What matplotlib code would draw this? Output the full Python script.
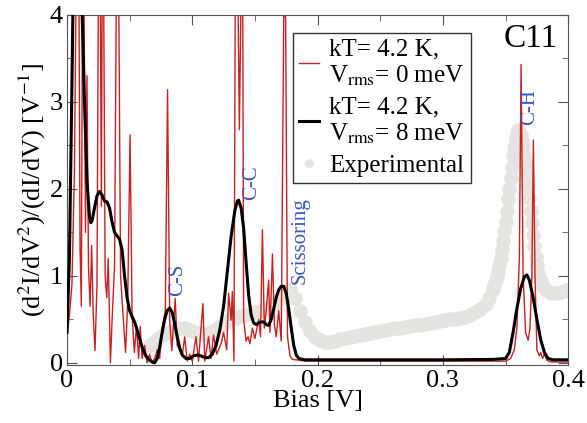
import matplotlib
matplotlib.use('Agg')
import matplotlib.pyplot as plt
from matplotlib.ticker import MultipleLocator, FuncFormatter

plt.rcParams['font.family'] = ['Liberation Serif', 'DejaVu Serif']
plt.rcParams['mathtext.fontset'] = 'stix'

# experimental dI2/dV2 (grey dots)
exp_x = [0.066, 0.070, 0.074, 0.078, 0.082, 0.086, 0.090, 0.094, 0.098, 0.102,
         0.106, 0.110, 0.114, 0.118, 0.122, 0.126, 0.130, 0.134, 0.138, 0.142,
         0.146, 0.150, 0.154, 0.158, 0.162, 0.166, 0.170, 0.174, 0.178, 0.182,
         0.186, 0.190, 0.194, 0.198, 0.202, 0.206, 0.210, 0.214, 0.218, 0.222,
         0.226, 0.230, 0.234, 0.238, 0.242, 0.246, 0.250, 0.254, 0.258, 0.262,
         0.266, 0.270, 0.274, 0.278, 0.282, 0.286, 0.290, 0.294, 0.298, 0.302,
         0.306, 0.310, 0.314, 0.318, 0.322, 0.326, 0.330, 0.334, 0.337,
         0.340, 0.341, 0.342, 0.343, 0.344, 0.345, 0.346, 0.347, 0.348, 0.349,
         0.350, 0.351, 0.352, 0.353, 0.354, 0.355, 0.356, 0.357, 0.358, 0.359,
         0.360, 0.361, 0.362, 0.363, 0.364, 0.365, 0.366, 0.367, 0.368, 0.369,
         0.370, 0.371, 0.372, 0.373, 0.374, 0.375, 0.376, 0.378, 0.380, 0.382,
         0.386, 0.390, 0.394, 0.398]
exp_y = [0.20, 0.25, 0.30, 0.34, 0.36, 0.38, 0.40, 0.40, 0.38, 0.35,
         0.33, 0.33, 0.35, 0.38, 0.42, 0.46, 0.50, 0.52, 0.54, 0.55,
         0.56, 0.58, 0.60, 0.62, 0.65, 0.68, 0.74, 0.82, 0.85, 0.75,
         0.60, 0.47, 0.37, 0.30, 0.26, 0.24, 0.24, 0.25, 0.27, 0.29,
         0.30, 0.31, 0.32, 0.33, 0.34, 0.36, 0.37, 0.38, 0.39, 0.40,
         0.40, 0.41, 0.42, 0.43, 0.44, 0.45, 0.46, 0.47, 0.48, 0.49,
         0.50, 0.50, 0.51, 0.53, 0.55, 0.58, 0.62, 0.68, 0.75,
         0.85, 0.90, 0.95, 1.00, 1.05, 1.12, 1.20, 1.30, 1.40, 1.51,
         1.62, 1.75, 1.88, 2.00, 2.12, 2.25, 2.38, 2.48, 2.58, 2.64,
         2.68, 2.66, 2.62, 2.55, 2.48, 2.38, 2.28, 2.16, 2.03, 1.89,
         1.75, 1.61, 1.47, 1.34, 1.22, 1.12, 1.02, 0.94, 0.88, 0.84,
         0.80, 0.80, 0.82, 0.84]

# theory, Vrms = 0 meV (red)
red_x = [0.000, 0.002, 0.004, 0.006, 0.0075, 0.0095, 0.0105, 0.0115, 0.0125, 0.0135,
         0.0148, 0.0160, 0.0172, 0.0185, 0.0197, 0.0210, 0.0224, 0.0240, 0.0252, 0.0265,
         0.0275, 0.0282, 0.0292, 0.0305, 0.0318, 0.0330, 0.0347, 0.0362, 0.0380, 0.0396,
         0.0412, 0.0428, 0.0450, 0.0468, 0.0485, 0.0504, 0.0520, 0.0538, 0.0555, 0.0572,
         0.0585, 0.0600, 0.0620, 0.0640, 0.0660, 0.0680, 0.0700, 0.0720, 0.0740, 0.0760,
         0.0785, 0.0803, 0.0820, 0.0837, 0.0864, 0.0880, 0.0900, 0.0920, 0.0940, 0.0960,
         0.0980, 0.1000, 0.1030, 0.1050, 0.1085, 0.1100, 0.1130, 0.1150, 0.1170, 0.1195,
         0.1230, 0.1250, 0.1275, 0.1290, 0.1310, 0.1320, 0.1333, 0.1344, 0.1362, 0.1376,
         0.1393, 0.1402, 0.1410, 0.1430, 0.1445, 0.1460, 0.1480, 0.1500, 0.1530, 0.1545,
         0.1560, 0.1575, 0.1590, 0.1610, 0.1620, 0.1640, 0.1655, 0.1670, 0.1690, 0.1710,
         0.1730, 0.1745, 0.1760, 0.1780, 0.1800, 0.1900, 0.3500, 0.3540, 0.3570, 0.3590,
         0.3610, 0.3624, 0.3640, 0.3660, 0.3680, 0.3695, 0.3710, 0.3722, 0.3735, 0.3750,
         0.3770, 0.3780, 0.3795, 0.3810, 0.3830, 0.3860, 0.4000]
red_y = [0.30, 0.55, 0.90, 2.20, 4.60, 4.60, 1.30, 0.65, 4.60, 4.60,
         1.50, 3.30, 1.10, 0.65, 1.35, 0.55, 0.14, 0.90, 4.60, 4.60,
         1.80, 4.60, 4.60, 1.00, 0.75, 1.20, 0.00, 0.55, 1.10, 4.60,
         4.60, 1.00, 0.50, 0.12, 0.70, 2.62, 0.55, 0.12, 0.42, 0.05,
         0.42, 0.05, 0.20, 0.00, 0.10, 0.00, 0.05, 0.15, 0.05, 0.40,
         0.60, 3.14, 0.50, 0.14, 0.74, 0.20, 0.15, 0.08, 0.30, 0.02,
         0.10, 0.02, 0.30, 0.02, 0.68, 0.02, 0.30, 0.05, 0.32, 0.10,
         0.22, 0.35, 0.15, 0.80, 0.49, 0.82, 0.02, 4.60, 4.60, 2.68,
         4.60, 4.60, 0.50, 0.25, 0.30, 0.22, 0.40, 0.28, 0.50, 0.30,
         1.53, 0.40, 0.60, 0.95, 0.35, 1.25, 0.45, 0.30, 0.60, 0.25,
         3.98, 3.98, 0.30, 0.08, 0.04, 0.02, 0.02, 0.05, 0.15, 0.40,
         1.20, 3.43, 1.00, 0.35, 0.26, 0.40, 1.00, 2.56, 1.00, 0.15,
         0.08, 0.12, 0.05, 0.10, 0.03, 0.01, 0.01]

# theory, Vrms = 8 meV (black)
blk_x = [0.000, 0.002, 0.004, 0.005, 0.008, 0.012, 0.014, 0.016, 0.018, 0.019,
         0.020, 0.022, 0.024, 0.026, 0.028, 0.030, 0.032, 0.034, 0.036, 0.038,
         0.040, 0.042, 0.044, 0.046, 0.048, 0.050, 0.052, 0.054, 0.056, 0.058,
         0.060, 0.063, 0.066, 0.068, 0.070, 0.072, 0.074, 0.076, 0.078, 0.080,
         0.082, 0.084, 0.086, 0.088, 0.090, 0.092, 0.095, 0.098, 0.101, 0.104,
         0.107, 0.110, 0.113, 0.116, 0.119, 0.122, 0.125, 0.128, 0.131, 0.134,
         0.136, 0.137, 0.139, 0.141, 0.143, 0.145, 0.147, 0.149, 0.151, 0.153,
         0.155, 0.157, 0.159, 0.161, 0.163, 0.165, 0.167, 0.169, 0.171, 0.173,
         0.175, 0.177, 0.179, 0.181, 0.183, 0.185, 0.190, 0.250, 0.300, 0.340,
         0.350, 0.353, 0.356, 0.359, 0.362, 0.365, 0.367, 0.369, 0.372, 0.375,
         0.378, 0.381, 0.384, 0.388, 0.400]
blk_y = [0.35, 1.20, 3.20, 4.30, 5.00, 4.10, 3.00, 2.10, 1.68, 1.61,
         1.63, 1.78, 1.92, 1.97, 1.93, 1.86, 1.85, 1.78, 1.62, 1.50,
         1.46, 1.42, 1.30, 1.00, 0.75, 0.60, 0.53, 0.47, 0.38, 0.28,
         0.18, 0.08, 0.03, 0.01, 0.00, 0.05, 0.18, 0.35, 0.50, 0.60,
         0.63, 0.58, 0.45, 0.30, 0.17, 0.09, 0.05, 0.05, 0.08, 0.09,
         0.08, 0.06, 0.06, 0.10, 0.20, 0.38, 0.65, 1.05, 1.45, 1.75,
         1.86, 1.87, 1.78, 1.55, 1.15, 0.78, 0.55, 0.46, 0.44, 0.46,
         0.47, 0.47, 0.44, 0.43, 0.50, 0.62, 0.75, 0.84, 0.88, 0.88,
         0.80, 0.62, 0.40, 0.20, 0.09, 0.05, 0.035, 0.035, 0.035, 0.04,
         0.05, 0.12, 0.35, 0.62, 0.85, 0.99, 1.01, 0.95, 0.75, 0.50,
         0.27, 0.12, 0.05, 0.035, 0.035]

# mode labels
mode_names = ['C-S', 'C-C', 'Scissoring', 'C-H']
mode_x = [0.088, 0.1476, 0.186, 0.369]
mode_y = [0.95, 2.07, 1.40, 2.94]

fig = plt.figure(figsize=(5.87, 4.23), dpi=100)
ax = fig.add_axes([0.114, 0.136, 0.854, 0.829])

ax.plot(exp_x, exp_y, 'o', color='#e6e4e1', ms=10.5, mec='none', zorder=1, label='Experimental')
ax.plot(red_x, red_y, '-', color='#cc1f1f', lw=1.0, zorder=2,
        label='kT= 4.2 K,\nV$_\\mathrm{rms}$= 0 meV')
ax.plot(blk_x, blk_y, '-', color='black', lw=2.2, zorder=3,
        label='kT= 4.2 K,\nV$_\\mathrm{rms}$= 8 meV')

for name, mx, my in zip(mode_names, mode_x, mode_y):
    ax.text(mx, my, name, rotation=90, color='#3a58c0', fontsize=15,
            ha='center', va='center')

ax.text(0.392, 3.72, 'C11', fontsize=24, ha='right', va='center')

ax.set_xlim(0, 0.4)
ax.set_ylim(-0.03, 4)
ax.xaxis.set_major_locator(MultipleLocator(0.1))
ax.xaxis.set_minor_locator(MultipleLocator(0.05))
ax.yaxis.set_major_locator(MultipleLocator(1))
ax.yaxis.set_minor_locator(MultipleLocator(0.5))
ax.xaxis.set_major_formatter(FuncFormatter(lambda v, p: '0' if v == 0 else '%g' % v))
ax.tick_params(which='both', direction='in', top=True, right=True, labelsize=19, color='#555555')
ax.tick_params(which='major', length=7, pad=3)
ax.tick_params(which='minor', length=4)
for s in ax.spines.values():
    s.set_color('#555555')

ax.set_xlabel('Bias [V]', fontsize=19, labelpad=-1)
ax.set_ylabel('(d$^2$I/dV$^2$)/(dI/dV) [V$^{-1}$]', fontsize=19, labelpad=1)

h, l = ax.get_legend_handles_labels()
leg = ax.legend([h[1], h[2], h[0]], [l[1], l[2], l[0]], loc='upper left',
                bbox_to_anchor=(0.451, 0.949), borderaxespad=0, fontsize=18,
                frameon=True, fancybox=False, edgecolor='#333333', framealpha=1,
                handlelength=0.8, handletextpad=0.4, labelspacing=0.35,
                borderpad=0.25, markerscale=0.6)
leg.get_frame().set_linewidth(1.0)
for t in leg.get_texts():
    t.set_linespacing(1.15)

plt.savefig('out.png', dpi=100)
